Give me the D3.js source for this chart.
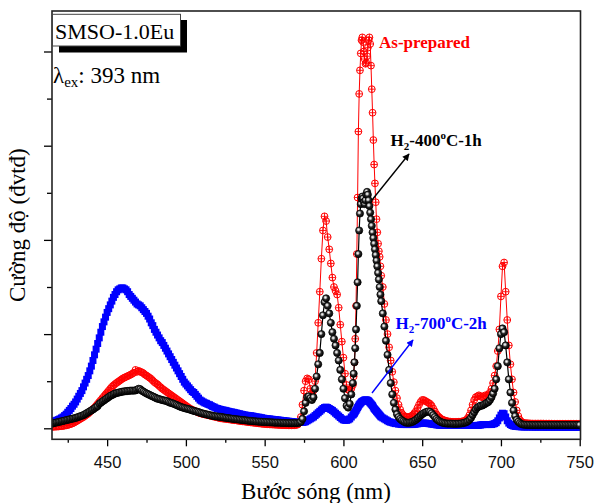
<!DOCTYPE html>
<html>
<head>
<meta charset="utf-8">
<script src="https://cdn.jsdelivr.net/npm/d3@7"></script>
<style>
  body { margin: 0; background: #fff; }
  svg { display: block; }
</style>
</head>
<body>
<svg width="597" height="503"></svg>
<script>
// wavelength grid (nm), shared by the three spectra
var wavelengths = [
  415,416,417,418,419,420,421,422,423,424,
  425,426,427,428,429,430,431,432,433,434,
  435,436,437,438,439,440,441,442,443,444,
  445,446,447,448,449,450,451,452,453,454,
  455,456,457,458,459,460,461,462,463,464,
  465,466,467,468,469,470,471,472,473,474,
  475,476,477,478,479,480,481,482,483,484,
  485,486,487,488,489,490,491,492,493,494,
  495,496,497,498,499,500,501,502,503,504,
  505,506,507,508,509,510,511,512,513,514,
  515,516,517,518,519,520,521,522,523,524,
  525,526,527,528,529,530,531,532,533,534,
  535,536,537,538,539,540,541,542,543,544,
  545,546,547,548,549,550,551,552,553,554,
  555,556,557,558,559,560,561,562,563,564,
  565,566,567,568,569,
  570,571,572,573,574,575,576,577,578,579,
  580,581,582,583,584,585,586,587,588,589,
  590,591,592,593,594,595,596,597,598,599,
  600,601,602,603,604,605,606,
  606.5,607,607.5,608,608.5,609,609.5,610,610.5,611,
  611.5,612,612.5,613,613.5,614,614.5,615,615.5,616,
  616.5,617,617.5,618,618.5,619,619.5,620,620.5,621,
  621.5,622,622.5,623,623.5,624,
  625,626,627,628,629,630,631,632,633,634,
  635,636,637,638,639,640,641,642,643,644,
  645,646,647,648,649,650,651,652,653,654,
  655,656,657,658,659,660,661,662,663,664,
  665,666,667,668,669,670,671,672,673,674,
  675,676,677,678,679,680,681,682,683,684,
  685,686,687,688,689,690,691,692,693,694,
  695,696,697,698,699,700,701,702,703,704,
  705,706,707,708,709,710,711,712,713,714,
  715,716,717,718,719,720,721,722,723,724,
  725,726,727,728,729,730,731,732,733,734,
  735,736,737,738,739,740,741,742,743,744,
  745,746,747,748,749,750
];

var asPrepared = [
  0.015,0.016,0.017,0.018,0.019,0.021,0.023,0.025,0.028,0.031,
  0.035,0.04,0.046,0.052,0.06,0.07,0.08,0.09,0.10,0.11,
  0.12,0.132,0.144,0.156,0.172,0.19,0.205,0.22,0.24,0.26,
  0.28,0.30,0.32,0.34,0.36,0.38,0.40,0.42,0.44,0.455,
  0.47,0.482,0.494,0.506,0.518,0.53,0.538,0.546,0.554,0.562,
  0.57,0.58,0.59,0.62,0.60,0.61,0.60,0.595,0.585,0.57,
  0.56,0.548,0.536,0.524,0.506,0.49,0.478,0.466,0.45,0.435,
  0.42,0.408,0.396,0.384,0.372,0.36,0.348,0.336,0.324,0.312,
  0.30,0.288,0.276,0.264,0.252,0.24,0.228,0.216,0.205,0.197,
  0.19,0.182,0.174,0.166,0.16,0.155,0.151,0.147,0.143,0.139,
  0.135,0.131,0.127,0.123,0.119,0.115,0.111,0.107,0.104,0.102,
  0.10,0.098,0.096,0.093,0.09,0.088,0.086,0.084,0.081,0.078,
  0.076,0.074,0.072,0.07,0.067,0.065,0.063,0.061,0.059,0.057,
  0.055,0.053,0.051,0.049,0.047,0.046,0.044,0.043,0.042,0.041,
  0.04,0.039,0.038,0.037,0.036,0.035,0.034,0.034,0.033,0.033,
  0.032,0.032,0.032,0.032,0.033,
  0.035,0.04,0.06,0.12,0.25,0.40,0.50,0.53,0.52,0.42,
  0.37,0.40,0.50,0.80,1.12,1.45,1.80,2.10,2.25,2.20,
  2.03,1.90,1.75,1.60,1.50,1.46,1.42,1.28,1.10,0.92,
  0.75,0.58,0.46,0.41,0.40,0.42,0.46,
  0.55,0.70,0.95,1.30,1.85,2.45,3.15,3.55,3.80,3.98,
  4.12,4.15,4.10,4.00,3.92,3.87,3.88,3.95,4.04,4.12,
  4.15,4.08,3.85,3.60,3.35,3.06,2.80,2.60,2.40,2.22,
  2.08,1.96,1.88,1.82,1.72,1.62,
  1.50,1.32,1.15,1.00,0.86,0.72,0.60,0.49,0.40,0.32,
  0.25,0.20,0.16,0.14,0.125,0.12,0.12,0.12,0.13,0.14,
  0.16,0.18,0.215,0.25,0.28,0.30,0.30,0.29,0.28,0.27,
  0.26,0.24,0.21,0.18,0.15,0.13,0.115,0.10,0.092,0.085,
  0.08,0.075,0.072,0.07,0.069,0.068,0.068,0.068,0.069,0.07,
  0.072,0.075,0.08,0.09,0.11,0.14,0.19,0.25,0.30,0.33,
  0.34,0.35,0.34,0.33,0.34,0.35,0.34,0.36,0.38,0.42,
  0.48,0.56,0.66,0.82,1.05,1.40,1.72,1.76,1.45,1.15,
  0.88,0.68,0.52,0.38,0.28,0.19,0.13,0.09,0.07,0.06,
  0.055,0.054,0.053,0.052,0.051,0.05,0.05,0.05,0.05,0.05,
  0.05,0.05,0.05,0.049,0.049,0.049,0.049,0.049,0.048,0.048,
  0.048,0.048,0.048,0.048,0.048,0.048,0.048,0.048,0.048,0.048,
  0.048,0.048,0.048,0.048,0.048,0.048
];

var h2400 = [
  0.05,0.054,0.058,0.062,0.066,0.07,0.074,0.078,0.082,0.086,
  0.09,0.094,0.098,0.102,0.106,0.11,0.116,0.122,0.128,0.134,
  0.14,0.15,0.16,0.17,0.18,0.19,0.20,0.212,0.224,0.236,
  0.26,0.272,0.284,0.296,0.308,0.32,0.332,0.344,0.352,0.36,
  0.37,0.374,0.378,0.382,0.386,0.39,0.392,0.394,0.396,0.398,
  0.40,0.40,0.40,0.402,0.41,0.42,0.415,0.40,0.39,0.38,
  0.37,0.362,0.354,0.346,0.338,0.33,0.322,0.314,0.31,0.305,
  0.30,0.296,0.292,0.288,0.28,0.272,0.268,0.262,0.255,0.248,
  0.24,0.232,0.226,0.22,0.215,0.21,0.206,0.202,0.196,0.19,
  0.185,0.181,0.177,0.172,0.166,0.16,0.156,0.152,0.148,0.144,
  0.14,0.136,0.132,0.129,0.127,0.125,0.123,0.121,0.118,0.115,
  0.112,0.11,0.107,0.105,0.102,0.10,0.098,0.096,0.094,0.092,
  0.09,0.088,0.086,0.084,0.082,0.08,0.078,0.076,0.075,0.074,
  0.072,0.071,0.07,0.069,0.068,0.067,0.066,0.065,0.064,0.063,
  0.062,0.061,0.06,0.06,0.059,0.058,0.057,0.057,0.056,0.056,
  0.055,0.055,0.055,0.055,0.055,
  0.055,0.056,0.06,0.07,0.10,0.18,0.27,0.33,0.34,0.32,
  0.30,0.33,0.42,0.55,0.68,0.80,1.00,1.20,1.34,1.38,
  1.30,1.22,1.12,1.02,0.95,0.88,0.80,0.72,0.62,0.52,
  0.42,0.32,0.24,0.22,0.26,0.36,0.48,
  0.58,0.70,0.85,1.05,1.30,1.55,1.85,2.10,2.28,2.38,
  2.44,2.46,2.44,2.40,2.38,2.42,2.48,2.51,2.48,2.42,
  2.36,2.29,2.22,2.15,2.08,2.02,1.96,1.90,1.84,1.78,
  1.72,1.65,1.58,1.50,1.42,1.35,
  1.22,1.08,0.93,0.78,0.62,0.48,0.36,0.27,0.20,0.15,
  0.12,0.10,0.085,0.075,0.065,0.06,0.06,0.06,0.065,0.07,
  0.08,0.09,0.105,0.12,0.135,0.15,0.16,0.17,0.175,0.18,
  0.175,0.16,0.14,0.12,0.10,0.085,0.074,0.065,0.06,0.055,
  0.052,0.05,0.05,0.05,0.049,0.048,0.048,0.048,0.049,0.05,
  0.052,0.055,0.06,0.065,0.075,0.09,0.11,0.14,0.17,0.20,
  0.22,0.23,0.24,0.24,0.25,0.26,0.27,0.28,0.30,0.33,
  0.37,0.42,0.52,0.66,0.85,1.00,1.06,1.02,0.88,0.70,
  0.52,0.38,0.27,0.19,0.13,0.09,0.07,0.055,0.045,0.04,
  0.038,0.037,0.036,0.036,0.035,0.035,0.035,0.035,0.035,0.035,
  0.035,0.035,0.035,0.035,0.035,0.035,0.035,0.035,0.035,0.035,
  0.035,0.035,0.035,0.035,0.035,0.035,0.035,0.035,0.035,0.035,
  0.035,0.035,0.035,0.035,0.035,0.035
];

var h2700 = [
  0.07,0.074,0.078,0.085,0.092,0.10,0.11,0.12,0.135,0.15,
  0.17,0.19,0.21,0.235,0.255,0.28,0.31,0.34,0.37,0.40,
  0.44,0.48,0.52,0.56,0.61,0.66,0.72,0.78,0.84,0.90,
  0.96,1.02,1.08,1.13,1.18,1.23,1.27,1.31,1.35,1.39,
  1.42,1.45,1.47,1.48,1.49,1.49,1.48,1.47,1.45,1.42,
  1.40,1.38,1.36,1.34,1.32,1.31,1.30,1.28,1.26,1.24,
  1.22,1.19,1.16,1.12,1.09,1.05,1.02,0.99,0.96,0.93,
  0.91,0.88,0.85,0.82,0.79,0.76,0.73,0.70,0.67,0.64,
  0.61,0.58,0.55,0.52,0.49,0.47,0.45,0.43,0.41,0.39,
  0.38,0.36,0.34,0.32,0.30,0.29,0.28,0.27,0.265,0.255,
  0.25,0.24,0.23,0.225,0.215,0.21,0.205,0.20,0.196,0.192,
  0.19,0.185,0.18,0.176,0.173,0.17,0.166,0.162,0.158,0.154,
  0.15,0.146,0.142,0.139,0.137,0.135,0.133,0.131,0.127,0.123,
  0.12,0.118,0.116,0.112,0.108,0.105,0.103,0.101,0.099,0.097,
  0.095,0.093,0.091,0.089,0.087,0.085,0.083,0.081,0.079,0.077,
  0.075,0.073,0.071,0.069,0.067,
  0.065,0.063,0.062,0.062,0.063,0.065,0.07,0.08,0.09,0.10,
  0.11,0.12,0.135,0.15,0.165,0.18,0.195,0.21,0.22,0.225,
  0.22,0.21,0.20,0.19,0.175,0.16,0.145,0.13,0.115,0.10,
  0.09,0.085,0.085,0.09,0.10,0.12,0.14,
  0.15,0.16,0.175,0.19,0.205,0.22,0.235,0.25,0.26,0.27,
  0.28,0.285,0.29,0.295,0.30,0.30,0.30,0.30,0.295,0.29,
  0.28,0.27,0.26,0.25,0.24,0.225,0.21,0.20,0.19,0.18,
  0.17,0.16,0.15,0.14,0.13,0.12,
  0.11,0.10,0.09,0.08,0.07,0.065,0.06,0.055,0.05,0.05,
  0.045,0.045,0.04,0.04,0.04,0.04,0.04,0.04,0.04,0.04,
  0.042,0.045,0.048,0.05,0.053,0.055,0.055,0.055,0.053,0.05,
  0.048,0.045,0.042,0.04,0.037,0.035,0.033,0.032,0.031,0.03,
  0.03,0.03,0.03,0.03,0.03,0.03,0.03,0.03,0.03,0.03,
  0.03,0.03,0.03,0.03,0.03,0.03,0.03,0.03,0.03,0.03,
  0.03,0.032,0.035,0.038,0.04,0.04,0.04,0.04,0.04,0.04,
  0.045,0.05,0.06,0.08,0.11,0.14,0.16,0.155,0.12,0.08,
  0.055,0.04,0.03,0.025,0.02,0.02,0.018,0.017,0.016,0.015,
  0.015,0.015,0.015,0.015,0.015,0.014,0.014,0.014,0.014,0.014,
  0.014,0.014,0.013,0.013,0.013,0.013,0.013,0.013,0.013,0.013,
  0.013,0.013,0.013,0.012,0.012,0.012,0.012,0.012,0.012,0.012,
  0.012,0.012,0.012,0.012,0.012,0.012
];

var xTicks = [450, 500, 550, 600, 650, 700, 750];
var xMinorTicks = [425, 475, 525, 575, 625, 675, 725];
var yTicks = [0, 1, 2, 3, 4];
var yMinorTicks = [0.5, 1.5, 2.5, 3.5];

var svg = d3.select('svg');
var plotLeft = 52, plotRight = 580.5, plotTop = 11, plotBottom = 439.3;

var x = d3.scaleLinear().domain([415, 750.5]).range([plotLeft, plotRight]);
var y = d3.scaleLinear().domain([0, 4]).range([428.3, 51.5]);

var defs = svg.append('defs');
var ball = defs.append('radialGradient').attr('id', 'ball')
  .attr('cx', '0.4').attr('cy', '0.38').attr('r', '0.62');
ball.append('stop').attr('offset', '0%').attr('stop-color', '#ffffff');
ball.append('stop').attr('offset', '22%').attr('stop-color', '#c8c8c8');
ball.append('stop').attr('offset', '50%').attr('stop-color', '#2a2a2a');
ball.append('stop').attr('offset', '100%').attr('stop-color', '#000');

function addArrow(id, color) {
  defs.append('marker').attr('id', id)
    .attr('viewBox', '0 0 10 10').attr('refX', 9).attr('refY', 5)
    .attr('markerWidth', 9).attr('markerHeight', 7)
    .attr('markerUnits', 'userSpaceOnUse')
    .attr('orient', 'auto')
    .append('path').attr('d', 'M0,0 L10,5 L0,10 Z').attr('fill', color);
}
addArrow('arrowBlack', '#000');
addArrow('arrowBlue', '#0000ff');

defs.append('clipPath').attr('id', 'plotClip')
  .append('rect').attr('x', plotLeft).attr('y', plotTop)
  .attr('width', plotRight - plotLeft).attr('height', plotBottom - plotTop);

function series(values) {
  return wavelengths.map(function(w, i) { return {w: w, v: values[i]}; })
    .filter(function(d) { return d.v !== undefined; });
}

var line = d3.line()
  .x(function(d) { return x(d.w); })
  .y(function(d) { return y(d.v); });

var plot = svg.append('g').attr('clip-path', 'url(#plotClip)');

// As-prepared: red line, circled-plus markers
var red = series(asPrepared);
plot.append('path').datum(red)
  .attr('d', line).attr('fill', 'none').attr('stroke', '#ff0000').attr('stroke-width', 1);
var rm = plot.append('g').selectAll('g').data(red).enter().append('g')
  .attr('transform', function(d) { return 'translate(' + x(d.w) + ',' + y(d.v) + ')'; });
rm.append('circle').attr('r', 3.4).attr('fill', 'none')
  .attr('stroke', '#ff0000').attr('stroke-width', 1);
rm.append('path').attr('d', 'M-3.4,0H3.4M0,-3.4V3.4')
  .attr('stroke', '#ff0000').attr('stroke-width', 0.9);

// H2-700C-2h: blue squares
var blue = series(h2700);
plot.append('path').datum(blue)
  .attr('d', line).attr('fill', 'none').attr('stroke', '#0000ff').attr('stroke-width', 1);
plot.append('g').selectAll('rect').data(blue).enter().append('rect')
  .attr('x', function(d) { return x(d.w) - 3.5; })
  .attr('y', function(d) { return y(d.v) - 3.5; })
  .attr('width', 7).attr('height', 7)
  .attr('fill', '#0000ff');

// H2-400C-1h: black line, shaded balls
var black = series(h2400);
plot.append('path').datum(black)
  .attr('d', line).attr('fill', 'none').attr('stroke', '#000').attr('stroke-width', 1.2);
plot.append('g').selectAll('circle').data(black).enter().append('circle')
  .attr('cx', function(d) { return x(d.w); })
  .attr('cy', function(d) { return y(d.v); })
  .attr('r', 3.6)
  .attr('fill', 'url(#ball)')
  .attr('stroke', '#000').attr('stroke-width', 0.7);

// axes
var axisX = svg.append('g').attr('transform', 'translate(0,' + plotBottom + ')')
  .call(d3.axisBottom(x).tickValues(xTicks).tickSize(7).tickPadding(10));
axisX.select('.domain').remove();
axisX.selectAll('text').attr('font-family', 'Liberation Sans, Arial, sans-serif')
  .attr('font-size', 16.5).attr('fill', '#111');
axisX.selectAll('line').attr('stroke-width', 1.3);

var axisXMinor = svg.append('g').attr('transform', 'translate(0,' + plotBottom + ')')
  .call(d3.axisBottom(x).tickValues(xMinorTicks).tickSize(3.5).tickFormat(''));
axisXMinor.select('.domain').remove();
axisXMinor.selectAll('line').attr('stroke-width', 1.3);

var axisY = svg.append('g').attr('transform', 'translate(' + plotLeft + ',0)')
  .call(d3.axisLeft(y).tickValues(yTicks).tickSize(8).tickFormat(''));
axisY.select('.domain').remove();
axisY.selectAll('line').attr('stroke-width', 1.3);

var axisYMinor = svg.append('g').attr('transform', 'translate(' + plotLeft + ',0)')
  .call(d3.axisLeft(y).tickValues(yMinorTicks).tickSize(5).tickFormat(''));
axisYMinor.select('.domain').remove();
axisYMinor.selectAll('line').attr('stroke-width', 1.3);

// frame
svg.append('rect')
  .attr('x', plotLeft).attr('y', plotTop)
  .attr('width', plotRight - plotLeft).attr('height', plotBottom - plotTop)
  .attr('fill', 'none').attr('stroke', '#222').attr('stroke-width', 1.6);

// sample label box with shadow
svg.append('rect').attr('x', 59).attr('y', 20).attr('width', 128).attr('height', 32.5)
  .attr('fill', '#000');
svg.append('rect').attr('x', 52.5).attr('y', 14.3).attr('width', 128).attr('height', 31.7)
  .attr('fill', '#fff').attr('stroke', '#444').attr('stroke-width', 1);
svg.append('text').attr('x', 55).attr('y', 39.3)
  .attr('font-family', 'Liberation Serif, serif').attr('font-size', 22)
  .text('SMSO-1.0Eu');

var lam = svg.append('text').attr('x', 53).attr('y', 83)
  .attr('font-family', 'Liberation Serif, serif').attr('font-size', 23);
lam.append('tspan').text('λ');
lam.append('tspan').attr('font-size', 15).attr('dy', 4).text('ex');
lam.append('tspan').attr('dy', -4).text(': 393 nm');

// series labels
function label(xp, yp, color, main, sub, rest) {
  var t = svg.append('text').attr('x', xp).attr('y', yp)
    .attr('font-family', 'Liberation Serif, serif').attr('font-weight', 'bold')
    .attr('font-size', 17).attr('fill', color);
  t.append('tspan').text(main);
  if (sub) {
    t.append('tspan').attr('font-size', 11).attr('dy', 4).text(sub);
    t.append('tspan').attr('dy', -4).text(rest[0]);
    t.append('tspan').attr('font-size', 11).attr('dy', -7).text('o');
    t.append('tspan').attr('dy', 7).text(rest[1]);
  }
}
label(379, 48.3, '#ff0000', 'As-prepared');
label(390.5, 145.7, '#000', 'H', '2', ['-400', 'C-1h']);
label(395.5, 329, '#0000ff', 'H', '2', ['-700', 'C-2h']);

svg.append('line').attr('x1', 372).attr('y1', 200).attr('x2', 409).attr('y2', 154)
  .attr('stroke', '#000').attr('stroke-width', 1.4).attr('marker-end', 'url(#arrowBlack)');
svg.append('line').attr('x1', 372).attr('y1', 393).attr('x2', 413).attr('y2', 340)
  .attr('stroke', '#0000ff').attr('stroke-width', 1.4).attr('marker-end', 'url(#arrowBlue)');

// axis titles
svg.append('text').attr('x', 316).attr('y', 499)
  .attr('text-anchor', 'middle')
  .attr('font-family', 'Liberation Serif, serif').attr('font-size', 23)
  .text('Bước sóng (nm)');

svg.append('text')
  .attr('transform', 'translate(25,' + ((plotTop + plotBottom) / 2) + ') rotate(-90)')
  .attr('text-anchor', 'middle')
  .attr('font-family', 'Liberation Serif, serif').attr('font-size', 23)
  .text('Cường độ (đvtđ)');
</script>
</body>
</html>
